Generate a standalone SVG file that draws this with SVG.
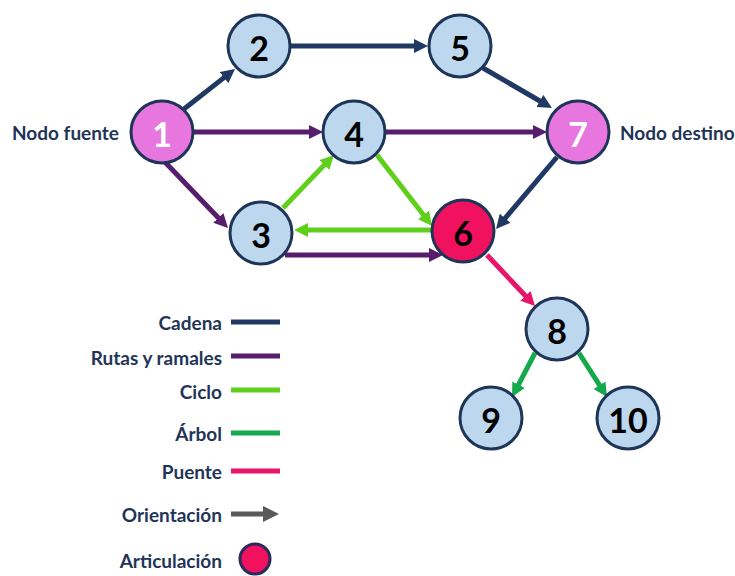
<svg xmlns="http://www.w3.org/2000/svg" width="735" height="576" viewBox="0 0 735 576">
<style>
.node{stroke:#1f3558;stroke-width:3}
.blue{fill:#bdd7ee}
.pink{fill:#e777de}
.red{fill:#f0115f}
.num{font-family:Lato,"Open Sans",sans-serif;font-weight:bold;font-size:34px;text-anchor:middle;dominant-baseline:central;fill:#000}
.wnum{fill:#fff}
.lbl{font-family:Lato,"Open Sans",sans-serif;font-weight:bold;font-size:19px;fill:#1f3558;dominant-baseline:central}
.leg{text-anchor:end}
.e{stroke-width:5;fill:none;stroke-linecap:butt}
.cad{stroke:#203864}
.rut{stroke:#581c6c}
.cic{stroke:#5fcf1c}
.arb{stroke:#16a84c}
.pue{stroke:#e8136b}
.ori{stroke:#595959}
</style>
<defs>
<marker id="mCad" markerUnits="userSpaceOnUse" viewBox="0 0 14 14" markerWidth="14" markerHeight="14" refX="2" refY="7" orient="auto"><path d="M0,0 L14,7 L0,14 z" fill="#203864"/></marker>
<marker id="mRut" markerUnits="userSpaceOnUse" viewBox="0 0 14 14" markerWidth="14" markerHeight="14" refX="2" refY="7" orient="auto"><path d="M0,0 L14,7 L0,14 z" fill="#581c6c"/></marker>
<marker id="mCic" markerUnits="userSpaceOnUse" viewBox="0 0 14 14" markerWidth="14" markerHeight="14" refX="2" refY="7" orient="auto"><path d="M0,0 L14,7 L0,14 z" fill="#5fcf1c"/></marker>
<marker id="mArb" markerUnits="userSpaceOnUse" viewBox="0 0 14 14" markerWidth="14" markerHeight="14" refX="2" refY="7" orient="auto"><path d="M0,0 L14,7 L0,14 z" fill="#16a84c"/></marker>
<marker id="mPue" markerUnits="userSpaceOnUse" viewBox="0 0 14 14" markerWidth="14" markerHeight="14" refX="2" refY="7" orient="auto"><path d="M0,0 L14,7 L0,14 z" fill="#e8136b"/></marker>
<marker id="mOri" markerUnits="userSpaceOnUse" viewBox="0 0 16 16" markerWidth="16" markerHeight="16" refX="2" refY="8" orient="auto"><path d="M0,0 L16,8 L0,16 z" fill="#595959"/></marker>
</defs>
<rect width="735" height="576" fill="#fff"/>
<g id="connectors">
<line class="e cad" x1="184" y1="109" x2="225.6" y2="76.4" marker-end="url(#mCad)"/>
<line class="e cad" x1="290" y1="46" x2="416" y2="46" marker-end="url(#mCad)"/>
<line class="e cad" x1="483" y1="68" x2="541.6" y2="102" marker-end="url(#mCad)"/>
<line class="e cad" x1="557" y1="157" x2="503.8" y2="219.8" marker-end="url(#mCad)"/>
<line class="e rut" x1="194" y1="132" x2="311" y2="132" marker-end="url(#mRut)"/>
<line class="e rut" x1="386" y1="132" x2="535" y2="132" marker-end="url(#mRut)"/>
<line class="e rut" x1="163" y1="160" x2="219.7" y2="219.3" marker-end="url(#mRut)"/>
<line class="e rut" x1="285" y1="255" x2="431" y2="255" marker-end="url(#mRut)"/>
<line class="e cic" x1="433" y1="230" x2="306" y2="230" marker-end="url(#mCic)"/>
<line class="e cic" x1="283" y1="208" x2="325.7" y2="163.6" marker-end="url(#mCic)"/>
<line class="e cic" x1="377" y1="155" x2="424.7" y2="216.5" marker-end="url(#mCic)"/>
<line class="e pue" x1="487" y1="255" x2="526.8" y2="297.3" marker-end="url(#mPue)"/>
<line class="e arb" x1="535" y1="353" x2="517.6" y2="386.4" marker-end="url(#mArb)"/>
<line class="e arb" x1="579" y1="353" x2="600.6" y2="386.9" marker-end="url(#mArb)"/>
</g>
<g id="node1"><circle class="node pink" cx="162" cy="132" r="31"/><text class="num wnum" x="162" y="133">1</text></g>
<g id="node2"><circle class="node blue" cx="259" cy="46" r="31"/><text class="num" x="259" y="47">2</text></g>
<g id="node3"><circle class="node blue" cx="261" cy="233" r="31"/><text class="num" x="261" y="234">3</text></g>
<g id="node4"><circle class="node blue" cx="354" cy="132" r="31"/><text class="num" x="354" y="133">4</text></g>
<g id="node5"><circle class="node blue" cx="460" cy="46" r="31"/><text class="num" x="460" y="47">5</text></g>
<g id="node6"><circle class="node red" cx="463" cy="231" r="31"/><text class="num" x="463" y="232">6</text></g>
<g id="node7"><circle class="node pink" cx="578" cy="132" r="31"/><text class="num wnum" x="578" y="133">7</text></g>
<g id="node8"><circle class="node blue" cx="557" cy="329" r="31"/><text class="num" x="557" y="330">8</text></g>
<g id="node9"><circle class="node blue" cx="491" cy="418" r="31"/><text class="num" x="491" y="419">9</text></g>
<g id="node10"><circle class="node blue" cx="628" cy="418" r="31"/><text class="num" x="628" y="419">10</text></g>
<g id="labels">
<text class="lbl" x="12" y="132">Nodo fuente</text>
<text class="lbl" x="620" y="132">Nodo destino</text>
</g>
<g id="legend">
<text class="lbl leg" x="222" y="322">Cadena</text>
<line class="e cad" x1="231" y1="322" x2="280" y2="322"/>
<text class="lbl leg" x="222" y="357">Rutas y ramales</text>
<line class="e rut" x1="231" y1="356" x2="280" y2="356"/>
<text class="lbl leg" x="222" y="391">Ciclo</text>
<line class="e cic" x1="231" y1="390" x2="280" y2="390"/>
<text class="lbl leg" x="222" y="433">Árbol</text>
<line class="e arb" x1="231" y1="433" x2="280" y2="433"/>
<text class="lbl leg" x="222" y="471">Puente</text>
<line class="e pue" x1="231" y1="471" x2="280" y2="471"/>
<text class="lbl leg" x="222" y="514">Orientación</text>
<line class="e ori" x1="231" y1="514" x2="265" y2="514" marker-end="url(#mOri)"/>
<text class="lbl leg" x="222" y="560">Articulación</text>
<circle cx="255" cy="559" r="15" fill="#f0115f" stroke="#2b2a5e" stroke-width="3"/>
</g>
</svg>
